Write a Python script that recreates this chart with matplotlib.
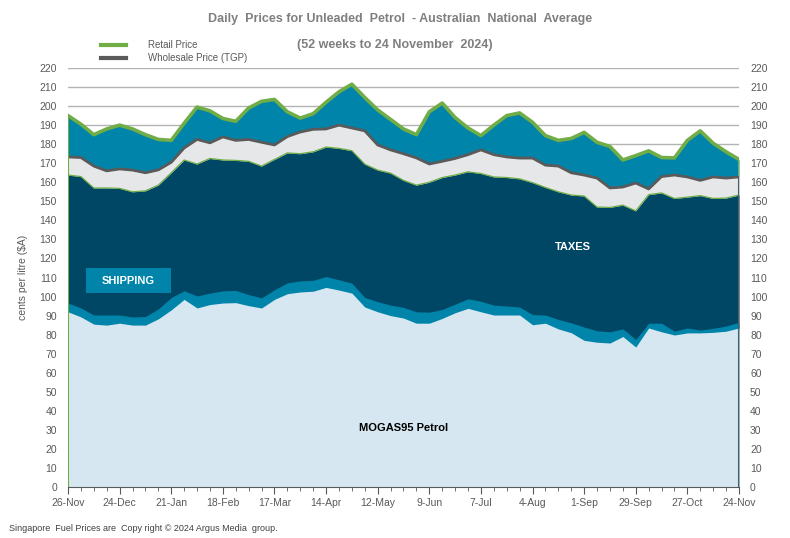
import numpy as np
import matplotlib
matplotlib.use("Agg")
import matplotlib.pyplot as plt
from matplotlib.lines import Line2D
from matplotlib.patches import Rectangle

plt.rcParams['font.family'] = ['Liberation Sans', 'DejaVu Sans']

# weekly readings, 26-Nov-2023 .. 24-Nov-2024 (cents per litre)
days = np.arange(0, 365, 7)

retail = [195, 190.5, 185, 188, 190, 188, 185, 182.5, 182, 191,
          199.5, 197.5, 193.5, 192, 199, 202.5, 203.5, 197, 193.7, 196,
          202, 207.5, 211.5, 204.5, 198, 193, 188, 185, 197, 201.6,
          194, 188.5, 184.5, 190, 195, 196.4, 191.5, 184.5, 182, 183,
          186.2, 181, 178.8, 171.7, 174, 176.5, 173, 172.8, 182, 187,
          180.5, 176, 172]

wholesale = [173.3, 173, 168.5, 166, 167, 166.4, 165, 166.5, 170.5, 178,
             182.5, 180.7, 183.8, 182, 182.5, 181, 179.6, 184, 186.4, 187.8,
             188, 190, 188.5, 187, 179.6, 177, 175, 172.8, 169.6, 171,
             172.5, 174.5, 177, 174.5, 173.3, 172.7, 172.7, 169, 168.5, 165,
             163.8, 162.2, 157, 157.5, 159.6, 156.5, 163, 163.8, 162.8, 161,
             162.8, 162.2, 162.8]

taxes = [163.8, 163, 157, 157, 156.8, 155, 155.5, 158.5, 165, 171.7,
         169.6, 172.5, 171.7, 171.5, 171, 168.5, 172, 175.4, 175, 176,
         178.5, 177.8, 176.6, 169.5, 166.4, 164.8, 161, 158.5, 160, 162.5,
         163.8, 165.5, 164.6, 162.8, 162.5, 161.8, 159.8, 157.3, 155, 153.3,
         152.8, 147, 146.8, 148, 145, 153.5, 154.4, 151.5, 152.2, 153,
         151.5, 151.7, 153.3]

shipping = [96.6, 94, 90.3, 90.3, 90.3, 89.3, 89.5, 93.5, 99.5, 103,
            100.3, 101.8, 103, 103.2, 101, 99.3, 103.5, 107.2, 108.2, 108.5,
            110.5, 108.8, 107, 99.5, 97.3, 95.5, 94.3, 92, 91.8, 93.2,
            96, 98.8, 97.5, 95.5, 95, 94.5, 90.5, 90.3, 88, 86.2,
            84, 82, 81.5, 83, 77.5, 86, 86, 81.8, 83.5, 82.4,
            83.3, 84.5, 86.5]

mogas = [92, 89.3, 85.5, 85, 86, 85, 85, 88.3, 93, 98.5,
         94, 95.8, 96.6, 96.8, 95.2, 94, 98.5, 101.5, 102.4, 102.8,
         104.8, 103.4, 101.8, 94.5, 92, 90, 88.7, 86, 86, 88.5,
         91.5, 93.8, 92, 90.3, 90.3, 90.3, 85.2, 86, 83, 81,
         77, 76, 75.6, 79, 73.5, 83.5, 81.5, 79.8, 80.9, 80.9,
         81.2, 81.8, 83.5]

tick_labels = ['26-Nov', '24-Dec', '21-Jan', '18-Feb', '17-Mar', '14-Apr', '12-May',
               '9-Jun', '7-Jul', '4-Aug', '1-Sep', '29-Sep', '27-Oct', '24-Nov']

c_retail_fill = '#0084aa'
c_green = '#70ad47'
c_grey_fill = '#e6e7e9'
c_wline = '#5a5a5a'
c_navy = '#004766'
c_ship = '#0084aa'
c_mogas = '#d6e7f1'
c_text = '#7f7f7f'

fig = plt.figure(figsize=(7.9, 5.38), dpi=100)
ax = fig.add_axes([0.0861, 0.0948, 0.8493, 0.7788])

ax.fill_between(days, 0, retail, color=c_retail_fill, lw=0, zorder=2)
ax.plot(days, retail, color=c_green, lw=2.6, zorder=2.1, solid_joinstyle='round')
ax.fill_between(days, 0, wholesale, color=c_grey_fill, lw=0, zorder=3)
ax.plot(days, wholesale, color=c_wline, lw=2.0, zorder=3.1)
ax.fill_between(days, 0, taxes, color=c_navy, lw=0, zorder=4)
ax.plot(days, taxes, color=c_green, lw=0.9, zorder=4.1)
ax.fill_between(days, 0, shipping, color=c_ship, lw=0, zorder=5)
ax.fill_between(days, 0, mogas, color=c_mogas, lw=0, zorder=6)
# area outlines at the chart edges
ax.plot([days[0], days[0]], [0, retail[0]], color=c_green, lw=1.5, zorder=7)
ax.plot([days[-1], days[-1]], [wholesale[-1], retail[-1]], color=c_green, lw=2.2, zorder=7)
ax.plot([days[-1], days[-1]], [0, wholesale[-1]], color=c_wline, lw=1.5, zorder=7)

ax.set_xlim(0, 364)
ax.set_ylim(0, 220)
ax.set_yticks(np.arange(0, 221, 10))
ax.grid(axis='y', color='#b3b3b3', lw=1.0, zorder=1)
ax.set_axisbelow(True)
ax.set_xticks(np.arange(0, 365, 28))
ax.set_xticks(np.arange(0, 365, 7), minor=True)
ax.set_xticklabels(tick_labels)
for s in ['left', 'right', 'top']:
    ax.spines[s].set_visible(False)
ax.spines['bottom'].set_color('#595959')
ax.spines['bottom'].set_zorder(8)
ax.tick_params(axis='x', which='major', length=5, color='#595959', labelsize=7.5,
               labelcolor='#595959', pad=3)
ax.tick_params(axis='x', which='minor', length=3, color='#595959')
ax.tick_params(axis='y', length=0, labelsize=7.5, labelcolor='#595959',
               labelleft=True, labelright=True, pad=8)
ax.set_ylabel('cents per litre ($A)', color='#595959', fontsize=7.5, labelpad=8)

ax.add_patch(Rectangle((9.8, 101.8), 46.1, 13.2, fc=c_ship, ec='none', zorder=8))
ax.text(32.9, 108.4, 'SHIPPING', color='white', fontsize=8, fontweight='bold',
        ha='center', va='center', zorder=9)
ax.text(274, 126, 'TAXES', color='white', fontsize=8, fontweight='bold',
        ha='center', va='center', zorder=8)
ax.text(182, 31, 'MOGAS95 Petrol', color='black', fontsize=8, fontweight='bold',
        ha='center', va='center', zorder=8)

fig.text(0.506, 0.964, 'Daily  Prices for Unleaded  Petrol  - Australian  National  Average',
         ha='center', va='center', fontsize=9, fontweight='bold', color=c_text)
fig.text(0.50, 0.916, '(52 weeks to 24 November  2024)',
         ha='center', va='center', fontsize=9, fontweight='bold', color=c_text)

handles = [Line2D([], [], color=c_green, lw=3), Line2D([], [], color=c_wline, lw=3)]
leg = fig.legend(handles, ['Retail Price', 'Wholesale Price (TGP)'], loc='upper left',
                 bbox_to_anchor=(0.118, 0.94), frameon=True, fontsize=7,
                 handlelength=2.6, handletextpad=2.2, labelspacing=0.35,
                 borderpad=0.3, labelcolor='#595959')
leg.get_frame().set_facecolor('white')
leg.get_frame().set_edgecolor('none')
leg.get_frame().set_alpha(1)

fig.text(0.012, 0.018, 'Singapore  Fuel Prices are  Copy right \u00a9 2024 Argus Media  group.',
         fontsize=6.5, color='#404040', ha='left', va='center')

fig.savefig('out.png', dpi=100)
